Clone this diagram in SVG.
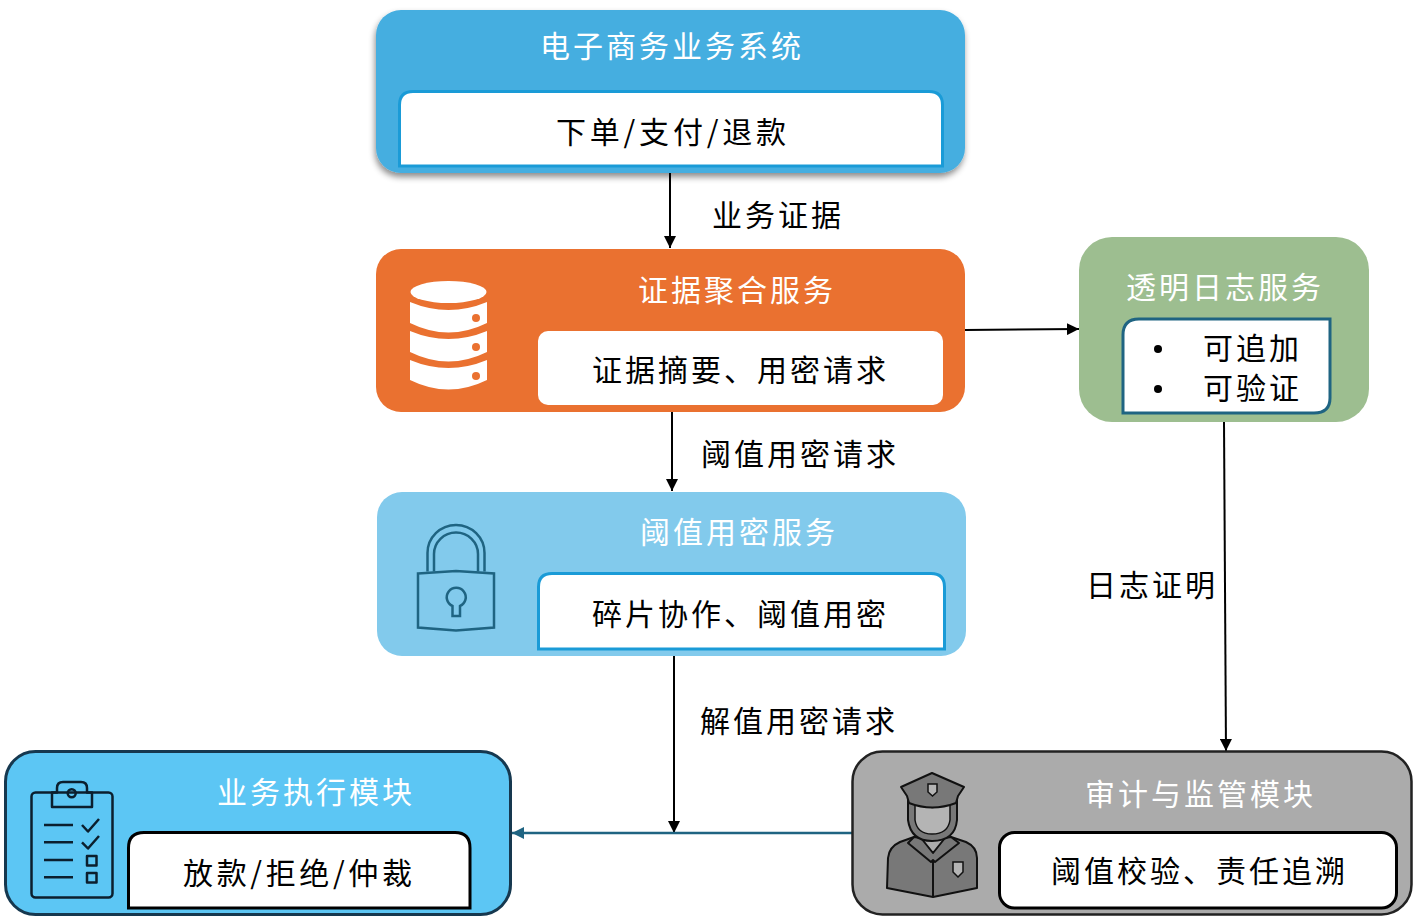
<svg xmlns="http://www.w3.org/2000/svg" width="1417" height="920" viewBox="0 0 1417 920">
<style>
text{font-family:"Noto Sans CJK SC","Noto Sans",sans-serif;font-size:30px;letter-spacing:3px}
.w{fill:#fff}.k{fill:#000}
.conn{fill:none;stroke:#000;stroke-width:2}
.ic{fill:none;stroke:#0b1f2e;stroke-width:2.5;stroke-linejoin:round}
.off{fill:#787878;stroke:#111;stroke-width:2;stroke-linejoin:round}
</style>
<defs>
<marker id="ah" markerUnits="userSpaceOnUse" markerWidth="12" markerHeight="12" refX="12" refY="6" orient="auto"><path d="M0 0L12 6L0 12z" fill="#000"/></marker>
<marker id="ab" markerUnits="userSpaceOnUse" markerWidth="12" markerHeight="12" refX="12" refY="6" orient="auto"><path d="M0 0L12 6L0 12z" fill="#1f6482"/></marker>
<filter id="sh" x="-5%" y="-10%" width="110%" height="125%"><feDropShadow dx="-1" dy="4" stdDeviation="3" flood-color="#000" flood-opacity=".45"/></filter>
</defs>
<rect width="1417" height="920" fill="#fff"/>
<g id="connectors">
<path class="conn" d="M670 173V248" marker-end="url(#ah)"/>
<path class="conn" d="M672 412V491" marker-end="url(#ah)"/>
<path class="conn" d="M674 656V833" marker-end="url(#ah)"/>
<path class="conn" d="M965 330L1079 329" marker-end="url(#ah)"/>
<path class="conn" d="M1224 422L1226 751" marker-end="url(#ah)"/>
<path class="conn" style="stroke:#1f6482;stroke-width:2.500" d="M853 833H512" marker-end="url(#ab)"/>
<text class="k" x="712" y="226">业务证据</text>
<text class="k" x="701" y="465">阈值用密请求</text>
<text class="k" x="1086" y="596">日志证明</text>
<text class="k" x="700" y="732">解值用密请求</text>
</g>
<g id="ecommerce">
<rect x="376" y="10" width="589" height="163" rx="25" fill="#45aee0" filter="url(#sh)"/>
<path d="M399.500 166V105Q399.500 91.500 413 91.500H929Q942.500 91.500 942.500 105V166Z" fill="#fff" stroke="#1a9bd7" stroke-width="3"/>
<text class="w" x="540" y="57">电子商务业务系统</text>
<text class="k" x="556" y="143" textLength="233" lengthAdjust="spacing">下单/支付/退款</text>
</g>
<g id="aggregation">
<rect x="376" y="249" width="589" height="163" rx="25" fill="#ea7130"/>
<rect x="538" y="331" width="405" height="74" rx="10" fill="#fff"/>
<g fill="#fff">
<ellipse cx="448.500" cy="292" rx="38" ry="11"/>
<path d="M410 302Q448.500 318 487 302V323Q448.500 342 410 323Z"/>
<path d="M410 331Q448.500 347 487 331V352Q448.500 371 410 352Z"/>
<path d="M410 360Q448.500 376 487 360V380Q448.500 399 410 380Z"/>
</g>
<g fill="#ea7130"><circle cx="476" cy="318" r="4"/><circle cx="476" cy="347" r="4"/><circle cx="476" cy="376" r="4"/></g>
<text class="w" x="638" y="301">证据聚合服务</text>
<text class="k" x="592" y="381">证据摘要、用密请求</text>
</g>
<g id="threshold">
<rect x="377" y="492" width="589" height="164" rx="25" fill="#82caec"/>
<path d="M538.500 649V587Q538.500 573.500 552 573.500H931Q944.500 573.500 944.500 587V649Z" fill="#fff" stroke="#1a9bd7" stroke-width="3"/>
<g fill="none" stroke="#1f6482" stroke-width="2.500">
<path d="M418 573.500L456 571L494 573.500V627.500L456 630.500L418 627.500Z"/>
<path d="M427.500 571.500V553A28.500 28 0 0 1 484.500 553V571.500"/>
<path d="M434 571.500V554A22 21.500 0 0 1 478 554V571.500"/>
<path d="M452.500 606A9.500 9.500 0 1 1 460 606V616H452.500Z"/>
</g>
<text class="w" x="640" y="543">阈值用密服务</text>
<text class="k" x="592" y="625">碎片协作、阈值用密</text>
</g>
<g id="log">
<rect x="1079" y="237" width="290" height="185" rx="33" fill="#9dbe90"/>
<path d="M1123 413V335Q1123 319 1139 319H1330V398Q1330 413 1314 413Z" fill="#fff" stroke="#1f6482" stroke-width="3"/>
<circle cx="1158" cy="349" r="4"/><circle cx="1158" cy="389" r="4"/>
<text class="w" x="1126" y="298">透明日志服务</text>
<text class="k" x="1203" y="359">可追加</text>
<text class="k" x="1203" y="399">可验证</text>
</g>
<g id="executor">
<rect x="5.500" y="751.500" width="505" height="163" rx="30" fill="#5cc6f4" stroke="#16384f" stroke-width="3"/>
<path d="M128.500 908V848Q128.500 832.500 144 832.500H455Q470 832.500 470 848V908Z" fill="#fff" stroke="#000" stroke-width="3"/>
<g class="ic">
<rect x="31.500" y="792.500" width="81" height="105" rx="4"/>
<path d="M52 792.500V807H92V792.500H87V788Q87 782 81 782H63Q57 782 57 788V792.500Z"/>
<circle cx="71.700" cy="793.300" r="4"/>
<path d="M44 825H73M44 842.300H73M44 860H73M44 877.300H73"/>
<path d="M82 825L88 831.500L99 819M82 842.300L88 848.500L99 836"/>
<rect x="87" y="856" width="9.500" height="9.500"/><rect x="87" y="873" width="9.500" height="9.500"/>
</g>
<text class="w" x="217" y="803">业务执行模块</text>
<text class="k" x="183" y="884" textLength="232" lengthAdjust="spacing">放款/拒绝/仲裁</text>
</g>
<g id="audit">
<rect x="852.500" y="751.500" width="559" height="163" rx="30" fill="#ababab" stroke="#222" stroke-width="2.500"/>
<rect x="999.500" y="832.500" width="397" height="75.500" rx="15" fill="#fff" stroke="#000" stroke-width="3"/>
<path class="off" d="M887 888L888 858Q889 847 900 842L914 837L933 856L951 837L966 842Q977 847 977 858L977 888L933 897Z"/>
<path class="off" d="M933 897V856" />
<path class="off" d="M914 837L921 838L933 853L945 838L951 837L959 843L935 862L933 860L931 862L908 843Z"/>
<path class="off" d="M908 800V820Q911 841 932 841Q955 841 957 820V800Z"/>
<path d="M915 804Q932 811 950 804V820Q948 834 932 834Q917 834 915 820Z" fill="#b4b4b4" stroke="#111" stroke-width="1.500"/>
<path class="off" d="M901 787L932 773L964 787L958 796L956 803Q932 812 909 803L907 796Z"/>
<path d="M928 784H937V792L932.500 796L928 792Z" fill="#b4b4b4" stroke="#111" stroke-width="1.500"/>
<path d="M953 862H963V872L958 877L953 872Z" fill="#b4b4b4" stroke="#111" stroke-width="1.500"/>
<text class="w" x="1085" y="805">审计与监管模块</text>
<text class="k" x="1051" y="882">阈值校验、责任追溯</text>
</g>
</svg>
